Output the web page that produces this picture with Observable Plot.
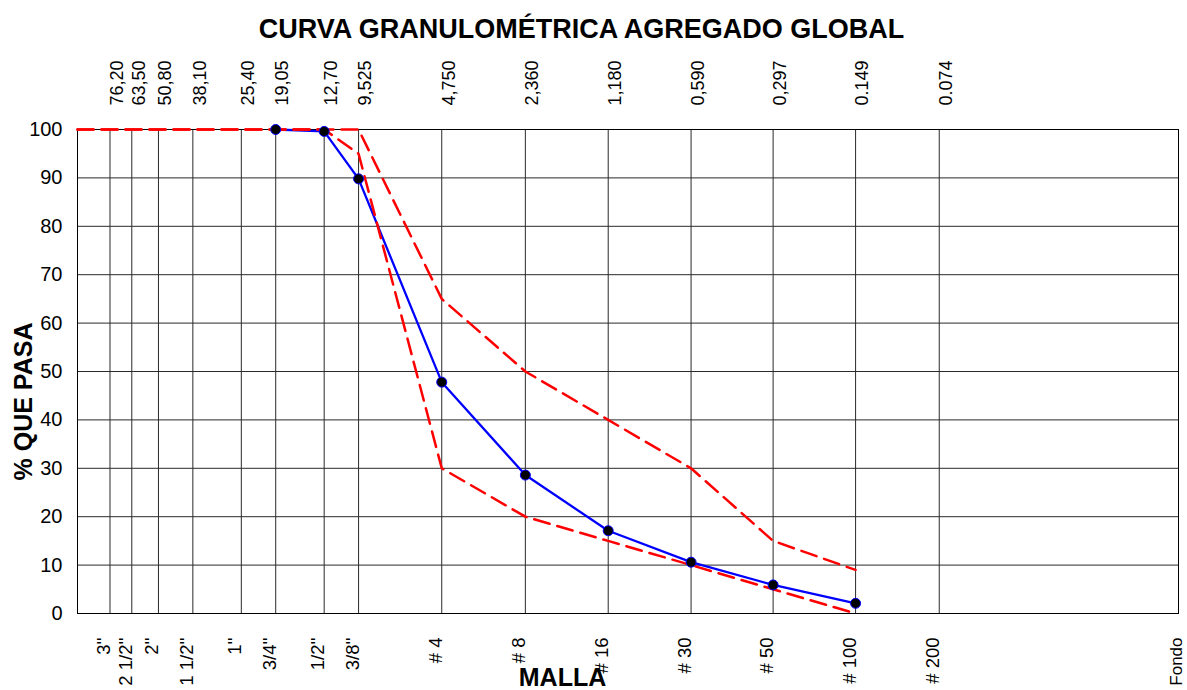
<!DOCTYPE html>
<html>
<head>
<meta charset="utf-8">
<script src="https://cdn.jsdelivr.net/npm/d3@7"></script>
<script src="https://cdn.jsdelivr.net/npm/@observablehq/plot@0.6"></script>
<style>
  html, body { margin: 0; padding: 0; background: #fff; }
  #chart svg { display: block; }
</style>
</head>
<body>
<div id="chart"></div>
<script>
// Sieve openings (mm) and their labels
const sizes = [76.2, 63.5, 50.8, 38.1, 25.4, 19.05, 12.7, 9.525, 4.75, 2.36, 1.18, 0.59, 0.297, 0.149, 0.074];
const sizeLabels = ["76,20", "63,50", "50,80", "38,10", "25,40", "19,05", "12,70", "9,525", "4,750", "2,360", "1,180", "0,590", "0,297", "0.149", "0.074"];
const sieveLabels = ["3''", "2 1/2''", "2''", "1 1/2''", "1''", "3/4''", "1/2''", "3/8''", "# 4", "# 8", "# 16", "# 30", "# 50", "# 100", "# 200"];
const fondoLabel = "Fondo";
const fondoSize = 0.01;

// Sample gradation (% passing)
const sampleSizes = [19.05, 12.7, 9.525, 4.75, 2.36, 1.18, 0.59, 0.297, 0.149];
const samplePassing = [100, 99.6, 89.8, 47.8, 28.6, 17.1, 10.6, 5.9, 2.1];

// Specification limits
const upperSizes = [100, 9.525, 4.75, 2.36, 1.18, 0.59, 0.297, 0.149];
const upperPassing = [100, 100, 65, 50, 40, 30, 15, 9];
const lowerSizes = [100, 12.7, 9.525, 4.75, 2.36, 1.18, 0.59, 0.297, 0.149];
const lowerPassing = [100, 100, 95, 30, 20, 15, 10, 5, 0];

const yTicks = [0, 10, 20, 30, 40, 50, 60, 70, 80, 90, 100];

const titleText = "CURVA GRANULOMÉTRICA AGREGADO GLOBAL";
const yLabel = "% QUE PASA";
const xLabel = "MALLA";

const sample = sampleSizes.map((s, i) => ({size: s, pass: samplePassing[i]}));
const upper = upperSizes.map((s, i) => ({size: s, pass: upperPassing[i]}));
const lower = lowerSizes.map((s, i) => ({size: s, pass: lowerPassing[i]}));
const sieves = sizes.map((s, i) => ({size: s, top: sizeLabels[i], bottom: sieveLabels[i]}));

const font = "'Liberation Sans', Arial, sans-serif";

const chart = Plot.plot({
  width: 1187,
  height: 690,
  marginLeft: 77,
  marginRight: 9,
  marginTop: 129,
  marginBottom: 77,
  x: {type: "log", domain: [100, 0.01], axis: null},
  y: {domain: [0, 100], axis: null},
  style: {fontFamily: font, background: "#fff", color: "#000", overflow: "visible"},
  marks: [
    Plot.ruleY(yTicks, {y: d => d, stroke: "#2a2a2a", strokeWidth: 1}),
    Plot.ruleX(sieves, {x: "size", stroke: "#2a2a2a", strokeWidth: 1}),
    Plot.frame({stroke: "#000", strokeWidth: 1}),
    Plot.line(sample, {x: "size", y: "pass", stroke: "#0000ff", strokeWidth: 2.3}),
    Plot.line(upper, {x: "size", y: "pass", stroke: "#ff0000", strokeWidth: 2.5, strokeDasharray: "16,8"}),
    Plot.line(lower, {x: "size", y: "pass", stroke: "#ff0000", strokeWidth: 2.5, strokeDasharray: "16,8"}),
    Plot.dot(sample, {x: "size", y: "pass", r: 5, fill: "#000", stroke: "#0000ff", strokeWidth: 1}),
    // y tick labels
    Plot.text(yTicks, {y: d => d, text: d => String(d), frameAnchor: "left", textAnchor: "end", dx: -15, fontSize: 20, fill: "#000"}),
    // top size labels
    Plot.text(sieves, {x: "size", text: "top", frameAnchor: "top", rotate: -90, textAnchor: "start", dy: -24, fontSize: 18, fill: "#000"}),
    // bottom sieve labels
    Plot.text(sieves, {x: "size", text: "bottom", frameAnchor: "bottom", rotate: -90, textAnchor: "end", dy: 24, fontSize: 18.5, fill: "#000"}),
    Plot.text([fondoLabel], {x: () => fondoSize, text: d => d, frameAnchor: "bottom", rotate: -90, textAnchor: "end", dy: 24, dx: 3, fontSize: 17, fill: "#000"}),
    // title
    Plot.text([titleText], {text: d => d, frameAnchor: "top-left", dx: 504, dy: -111, textAnchor: "middle", fontSize: 27, fontWeight: "bold", fill: "#000"}),
    // y label
    Plot.text([yLabel], {text: d => d, frameAnchor: "left", dx: -54, dy: 30, rotate: -90, textAnchor: "middle", fontSize: 25, fontWeight: "bold", fill: "#000"}),
    // x label
    Plot.text([xLabel], {text: d => d, frameAnchor: "bottom-left", dx: 485, dy: 72, textAnchor: "middle", fontSize: 25, fontWeight: "bold", fill: "#000"})
  ]
});

document.getElementById("chart").appendChild(chart);
</script>
</body>
</html>
